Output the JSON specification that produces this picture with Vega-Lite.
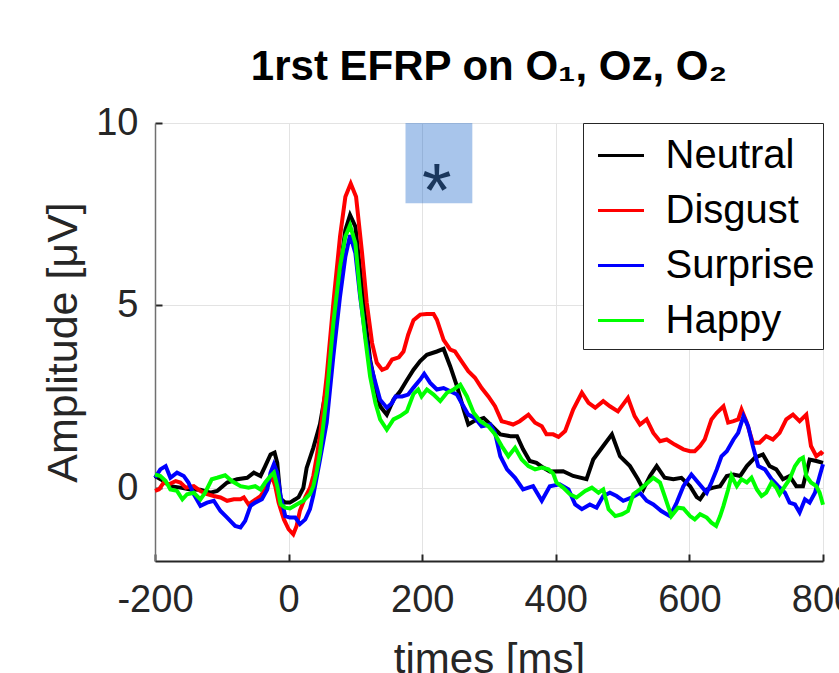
{
"$schema":"https://vega.github.io/schema/vega-lite/v6.json",
"width":668,"height":438,"autosize":"none",
"padding":{"left":155,"top":123,"right":16,"bottom":112},
"background":"white",
"config":{"view":{"stroke":null},"font":"Liberation Sans"},
"title":{"text":"1rst EFRP on O₁, Oᴢ, O₂","fontSize":42,"fontWeight":"bold","font":"Liberation Sans","color":"black","anchor":"middle","frame":"group","offset":15},
"datasets":{
"curves":[
{"c":"Neutral","t":-200,"v":0.33},{"c":"Neutral","t":-187,"v":0.19},{"c":"Neutral","t":-177,"v":0.05},{"c":"Neutral","t":-162,"v":0.01},{"c":"Neutral","t":-147,"v":-0.04},{"c":"Neutral","t":-132,"v":-0.05},{"c":"Neutral","t":-117,"v":-0.13},{"c":"Neutral","t":-107,"v":-0.08},{"c":"Neutral","t":-92,"v":0.15},{"c":"Neutral","t":-77,"v":0.24},{"c":"Neutral","t":-62,"v":0.28},{"c":"Neutral","t":-52,"v":0.42},{"c":"Neutral","t":-42,"v":0.33},{"c":"Neutral","t":-35,"v":0.6},{"c":"Neutral","t":-27,"v":0.92},{"c":"Neutral","t":-21,"v":0.97},{"c":"Neutral","t":-17,"v":0.69},{"c":"Neutral","t":-12,"v":-0.3},{"c":"Neutral","t":-5,"v":-0.4},{"c":"Neutral","t":2,"v":-0.4},{"c":"Neutral","t":10,"v":-0.31},{"c":"Neutral","t":15,"v":-0.25},{"c":"Neutral","t":22,"v":0.0},{"c":"Neutral","t":27,"v":0.55},{"c":"Neutral","t":37,"v":1.1},{"c":"Neutral","t":47,"v":1.75},{"c":"Neutral","t":57,"v":2.79},{"c":"Neutral","t":67,"v":4.34},{"c":"Neutral","t":77,"v":5.98},{"c":"Neutral","t":85,"v":7.07},{"c":"Neutral","t":92,"v":7.48},{"c":"Neutral","t":100,"v":7.16},{"c":"Neutral","t":107,"v":5.98},{"c":"Neutral","t":115,"v":4.61},{"c":"Neutral","t":122,"v":3.52},{"c":"Neutral","t":130,"v":2.79},{"c":"Neutral","t":137,"v":2.24},{"c":"Neutral","t":147,"v":2.01},{"c":"Neutral","t":157,"v":2.42},{"c":"Neutral","t":167,"v":2.65},{"c":"Neutral","t":177,"v":2.95},{"c":"Neutral","t":187,"v":3.24},{"c":"Neutral","t":197,"v":3.48},{"c":"Neutral","t":207,"v":3.65},{"c":"Neutral","t":222,"v":3.74},{"c":"Neutral","t":232,"v":3.81},{"c":"Neutral","t":242,"v":3.33},{"c":"Neutral","t":252,"v":2.79},{"c":"Neutral","t":262,"v":2.15},{"c":"Neutral","t":269,"v":1.74},{"c":"Neutral","t":277,"v":1.83},{"c":"Neutral","t":292,"v":1.92},{"c":"Neutral","t":302,"v":1.74},{"c":"Neutral","t":317,"v":1.47},{"c":"Neutral","t":332,"v":1.42},{"c":"Neutral","t":342,"v":1.42},{"c":"Neutral","t":351,"v":1.06},{"c":"Neutral","t":361,"v":0.74},{"c":"Neutral","t":371,"v":0.69},{"c":"Neutral","t":381,"v":0.56},{"c":"Neutral","t":391,"v":0.45},{"c":"Neutral","t":411,"v":0.46},{"c":"Neutral","t":426,"v":0.33},{"c":"Neutral","t":446,"v":0.24},{"c":"Neutral","t":456,"v":0.78},{"c":"Neutral","t":471,"v":1.15},{"c":"Neutral","t":484,"v":1.47},{"c":"Neutral","t":496,"v":0.87},{"c":"Neutral","t":511,"v":0.6},{"c":"Neutral","t":523,"v":0.24},{"c":"Neutral","t":531,"v":-0.04},{"c":"Neutral","t":541,"v":0.33},{"c":"Neutral","t":551,"v":0.6},{"c":"Neutral","t":563,"v":0.28},{"c":"Neutral","t":576,"v":0.24},{"c":"Neutral","t":588,"v":0.28},{"c":"Neutral","t":601,"v":0.05},{"c":"Neutral","t":611,"v":-0.25},{"c":"Neutral","t":616,"v":-0.31},{"c":"Neutral","t":626,"v":-0.04},{"c":"Neutral","t":636,"v":0.01},{"c":"Neutral","t":646,"v":0.05},{"c":"Neutral","t":656,"v":0.33},{"c":"Neutral","t":666,"v":0.37},{"c":"Neutral","t":676,"v":0.33},{"c":"Neutral","t":686,"v":0.6},{"c":"Neutral","t":698,"v":0.83},{"c":"Neutral","t":710,"v":0.92},{"c":"Neutral","t":720,"v":0.6},{"c":"Neutral","t":730,"v":0.51},{"c":"Neutral","t":740,"v":0.24},{"c":"Neutral","t":750,"v":0.33},{"c":"Neutral","t":760,"v":0.05},{"c":"Neutral","t":770,"v":0.05},{"c":"Neutral","t":780,"v":0.78},{"c":"Neutral","t":790,"v":0.74},{"c":"Neutral","t":800,"v":0.69},
{"c":"Disgust","t":-200,"v":-0.08},{"c":"Disgust","t":-194,"v":-0.04},{"c":"Disgust","t":-187,"v":0.15},{"c":"Disgust","t":-179,"v":0.1},{"c":"Disgust","t":-169,"v":0.19},{"c":"Disgust","t":-162,"v":0.15},{"c":"Disgust","t":-154,"v":0.01},{"c":"Disgust","t":-142,"v":0.05},{"c":"Disgust","t":-132,"v":-0.08},{"c":"Disgust","t":-122,"v":-0.17},{"c":"Disgust","t":-112,"v":-0.22},{"c":"Disgust","t":-102,"v":-0.26},{"c":"Disgust","t":-92,"v":-0.35},{"c":"Disgust","t":-82,"v":-0.31},{"c":"Disgust","t":-72,"v":-0.31},{"c":"Disgust","t":-67,"v":-0.26},{"c":"Disgust","t":-60,"v":-0.45},{"c":"Disgust","t":-52,"v":-0.35},{"c":"Disgust","t":-42,"v":-0.22},{"c":"Disgust","t":-32,"v":0.05},{"c":"Disgust","t":-25,"v":0.33},{"c":"Disgust","t":-20,"v":0.05},{"c":"Disgust","t":-15,"v":-0.4},{"c":"Disgust","t":-7,"v":-0.86},{"c":"Disgust","t":0,"v":-1.13},{"c":"Disgust","t":7,"v":-1.27},{"c":"Disgust","t":12,"v":-1.04},{"c":"Disgust","t":17,"v":-0.62},{"c":"Disgust","t":25,"v":-0.25},{"c":"Disgust","t":32,"v":0.0},{"c":"Disgust","t":37,"v":0.33},{"c":"Disgust","t":42,"v":0.85},{"c":"Disgust","t":47,"v":1.42},{"c":"Disgust","t":57,"v":3.06},{"c":"Disgust","t":67,"v":5.07},{"c":"Disgust","t":77,"v":6.89},{"c":"Disgust","t":85,"v":7.98},{"c":"Disgust","t":93,"v":8.34},{"c":"Disgust","t":101,"v":7.98},{"c":"Disgust","t":110,"v":6.43},{"c":"Disgust","t":117,"v":5.07},{"c":"Disgust","t":125,"v":3.97},{"c":"Disgust","t":132,"v":3.43},{"c":"Disgust","t":140,"v":3.24},{"c":"Disgust","t":147,"v":3.29},{"c":"Disgust","t":155,"v":3.52},{"c":"Disgust","t":165,"v":3.58},{"c":"Disgust","t":172,"v":3.74},{"c":"Disgust","t":179,"v":4.2},{"c":"Disgust","t":187,"v":4.6},{"c":"Disgust","t":197,"v":4.75},{"c":"Disgust","t":207,"v":4.77},{"c":"Disgust","t":217,"v":4.77},{"c":"Disgust","t":222,"v":4.61},{"c":"Disgust","t":232,"v":4.06},{"c":"Disgust","t":242,"v":3.79},{"c":"Disgust","t":249,"v":3.74},{"c":"Disgust","t":259,"v":3.47},{"c":"Disgust","t":269,"v":3.2},{"c":"Disgust","t":279,"v":3.02},{"c":"Disgust","t":289,"v":2.74},{"c":"Disgust","t":299,"v":2.51},{"c":"Disgust","t":309,"v":2.24},{"c":"Disgust","t":319,"v":1.83},{"c":"Disgust","t":327,"v":1.79},{"c":"Disgust","t":336,"v":1.74},{"c":"Disgust","t":346,"v":1.83},{"c":"Disgust","t":359,"v":2.01},{"c":"Disgust","t":369,"v":1.79},{"c":"Disgust","t":379,"v":1.69},{"c":"Disgust","t":386,"v":1.47},{"c":"Disgust","t":396,"v":1.47},{"c":"Disgust","t":404,"v":1.4},{"c":"Disgust","t":414,"v":1.56},{"c":"Disgust","t":426,"v":2.15},{"c":"Disgust","t":439,"v":2.61},{"c":"Disgust","t":449,"v":2.33},{"c":"Disgust","t":459,"v":2.2},{"c":"Disgust","t":471,"v":2.38},{"c":"Disgust","t":481,"v":2.24},{"c":"Disgust","t":493,"v":2.1},{"c":"Disgust","t":508,"v":2.47},{"c":"Disgust","t":518,"v":1.97},{"c":"Disgust","t":526,"v":1.74},{"c":"Disgust","t":536,"v":1.88},{"c":"Disgust","t":546,"v":1.51},{"c":"Disgust","t":556,"v":1.28},{"c":"Disgust","t":566,"v":1.33},{"c":"Disgust","t":578,"v":1.19},{"c":"Disgust","t":591,"v":1.06},{"c":"Disgust","t":601,"v":1.01},{"c":"Disgust","t":608,"v":1.01},{"c":"Disgust","t":616,"v":1.15},{"c":"Disgust","t":623,"v":1.33},{"c":"Disgust","t":633,"v":1.88},{"c":"Disgust","t":641,"v":2.06},{"c":"Disgust","t":651,"v":2.24},{"c":"Disgust","t":658,"v":1.79},{"c":"Disgust","t":666,"v":1.83},{"c":"Disgust","t":673,"v":1.88},{"c":"Disgust","t":678,"v":2.15},{"c":"Disgust","t":686,"v":1.79},{"c":"Disgust","t":695,"v":1.24},{"c":"Disgust","t":705,"v":1.24},{"c":"Disgust","t":715,"v":1.42},{"c":"Disgust","t":725,"v":1.33},{"c":"Disgust","t":735,"v":1.51},{"c":"Disgust","t":745,"v":1.88},{"c":"Disgust","t":755,"v":2.01},{"c":"Disgust","t":765,"v":1.83},{"c":"Disgust","t":775,"v":2.01},{"c":"Disgust","t":782,"v":1.15},{"c":"Disgust","t":790,"v":0.87},{"c":"Disgust","t":797,"v":0.97},{"c":"Disgust","t":800,"v":0.92},
{"c":"Surprise","t":-200,"v":0.28},{"c":"Surprise","t":-192,"v":0.51},{"c":"Surprise","t":-184,"v":0.6},{"c":"Surprise","t":-177,"v":0.28},{"c":"Surprise","t":-167,"v":0.42},{"c":"Surprise","t":-157,"v":0.33},{"c":"Surprise","t":-150,"v":0.15},{"c":"Surprise","t":-142,"v":-0.17},{"c":"Surprise","t":-132,"v":-0.49},{"c":"Surprise","t":-122,"v":-0.4},{"c":"Surprise","t":-112,"v":-0.35},{"c":"Surprise","t":-102,"v":-0.63},{"c":"Surprise","t":-92,"v":-0.81},{"c":"Surprise","t":-80,"v":-1.04},{"c":"Surprise","t":-72,"v":-1.08},{"c":"Surprise","t":-65,"v":-0.9},{"c":"Surprise","t":-57,"v":-0.49},{"c":"Surprise","t":-50,"v":-0.4},{"c":"Surprise","t":-40,"v":-0.31},{"c":"Surprise","t":-32,"v":-0.04},{"c":"Surprise","t":-27,"v":0.42},{"c":"Surprise","t":-22,"v":0.65},{"c":"Surprise","t":-17,"v":0.42},{"c":"Surprise","t":-12,"v":-0.22},{"c":"Surprise","t":-5,"v":-0.77},{"c":"Surprise","t":2,"v":-0.81},{"c":"Surprise","t":10,"v":-0.81},{"c":"Surprise","t":17,"v":-0.99},{"c":"Surprise","t":25,"v":-0.86},{"c":"Surprise","t":32,"v":-0.58},{"c":"Surprise","t":37,"v":-0.2},{"c":"Surprise","t":47,"v":0.78},{"c":"Surprise","t":57,"v":1.79},{"c":"Surprise","t":67,"v":3.61},{"c":"Surprise","t":77,"v":5.25},{"c":"Surprise","t":85,"v":6.34},{"c":"Surprise","t":92,"v":6.93},{"c":"Surprise","t":100,"v":6.43},{"c":"Surprise","t":107,"v":5.25},{"c":"Surprise","t":115,"v":4.15},{"c":"Surprise","t":122,"v":3.43},{"c":"Surprise","t":130,"v":2.88},{"c":"Surprise","t":137,"v":2.42},{"c":"Surprise","t":147,"v":2.2},{"c":"Surprise","t":155,"v":2.33},{"c":"Surprise","t":160,"v":2.51},{"c":"Surprise","t":170,"v":2.51},{"c":"Surprise","t":179,"v":2.56},{"c":"Surprise","t":187,"v":2.75},{"c":"Surprise","t":197,"v":2.97},{"c":"Surprise","t":203,"v":3.13},{"c":"Surprise","t":212,"v":2.88},{"c":"Surprise","t":222,"v":2.7},{"c":"Surprise","t":232,"v":2.74},{"c":"Surprise","t":242,"v":2.65},{"c":"Surprise","t":252,"v":2.56},{"c":"Surprise","t":259,"v":2.33},{"c":"Surprise","t":269,"v":2.01},{"c":"Surprise","t":279,"v":1.92},{"c":"Surprise","t":289,"v":1.69},{"c":"Surprise","t":302,"v":1.74},{"c":"Surprise","t":309,"v":1.51},{"c":"Surprise","t":317,"v":0.87},{"c":"Surprise","t":327,"v":0.51},{"c":"Surprise","t":339,"v":0.28},{"c":"Surprise","t":351,"v":-0.04},{"c":"Surprise","t":366,"v":0.05},{"c":"Surprise","t":379,"v":-0.35},{"c":"Surprise","t":391,"v":0.05},{"c":"Surprise","t":406,"v":0.1},{"c":"Surprise","t":419,"v":-0.04},{"c":"Surprise","t":429,"v":-0.45},{"c":"Surprise","t":439,"v":-0.58},{"c":"Surprise","t":451,"v":-0.45},{"c":"Surprise","t":461,"v":-0.54},{"c":"Surprise","t":471,"v":-0.22},{"c":"Surprise","t":481,"v":-0.13},{"c":"Surprise","t":491,"v":-0.22},{"c":"Surprise","t":501,"v":-0.35},{"c":"Surprise","t":514,"v":-0.26},{"c":"Surprise","t":526,"v":-0.13},{"c":"Surprise","t":536,"v":-0.35},{"c":"Surprise","t":546,"v":-0.45},{"c":"Surprise","t":558,"v":-0.63},{"c":"Surprise","t":571,"v":-0.77},{"c":"Surprise","t":581,"v":-0.4},{"c":"Surprise","t":591,"v":0.05},{"c":"Surprise","t":603,"v":0.37},{"c":"Surprise","t":613,"v":0.15},{"c":"Surprise","t":626,"v":-0.13},{"c":"Surprise","t":633,"v":0.15},{"c":"Surprise","t":641,"v":0.51},{"c":"Surprise","t":648,"v":0.87},{"c":"Surprise","t":656,"v":1.01},{"c":"Surprise","t":666,"v":1.33},{"c":"Surprise","t":673,"v":1.51},{"c":"Surprise","t":681,"v":1.97},{"c":"Surprise","t":688,"v":1.69},{"c":"Surprise","t":695,"v":1.15},{"c":"Surprise","t":703,"v":0.6},{"c":"Surprise","t":713,"v":0.51},{"c":"Surprise","t":723,"v":0.24},{"c":"Surprise","t":733,"v":0.05},{"c":"Surprise","t":743,"v":-0.13},{"c":"Surprise","t":750,"v":-0.4},{"c":"Surprise","t":758,"v":-0.45},{"c":"Surprise","t":765,"v":-0.67},{"c":"Surprise","t":773,"v":-0.31},{"c":"Surprise","t":780,"v":-0.4},{"c":"Surprise","t":788,"v":-0.13},{"c":"Surprise","t":795,"v":0.33},{"c":"Surprise","t":800,"v":0.65},
{"c":"Happy","t":-200,"v":0.37},{"c":"Happy","t":-192,"v":0.33},{"c":"Happy","t":-184,"v":0.19},{"c":"Happy","t":-177,"v":-0.04},{"c":"Happy","t":-167,"v":-0.08},{"c":"Happy","t":-159,"v":-0.31},{"c":"Happy","t":-152,"v":-0.17},{"c":"Happy","t":-142,"v":-0.13},{"c":"Happy","t":-132,"v":-0.31},{"c":"Happy","t":-125,"v":-0.13},{"c":"Happy","t":-115,"v":0.24},{"c":"Happy","t":-107,"v":0.28},{"c":"Happy","t":-95,"v":0.35},{"c":"Happy","t":-85,"v":0.19},{"c":"Happy","t":-72,"v":0.05},{"c":"Happy","t":-60,"v":0.01},{"c":"Happy","t":-50,"v":0.05},{"c":"Happy","t":-42,"v":-0.04},{"c":"Happy","t":-35,"v":0.15},{"c":"Happy","t":-27,"v":0.33},{"c":"Happy","t":-22,"v":0.42},{"c":"Happy","t":-17,"v":0.05},{"c":"Happy","t":-12,"v":-0.45},{"c":"Happy","t":-5,"v":-0.54},{"c":"Happy","t":2,"v":-0.56},{"c":"Happy","t":12,"v":-0.45},{"c":"Happy","t":22,"v":-0.35},{"c":"Happy","t":32,"v":-0.17},{"c":"Happy","t":37,"v":0.05},{"c":"Happy","t":42,"v":0.45},{"c":"Happy","t":47,"v":0.97},{"c":"Happy","t":57,"v":2.51},{"c":"Happy","t":67,"v":4.52},{"c":"Happy","t":77,"v":6.07},{"c":"Happy","t":85,"v":6.89},{"c":"Happy","t":92,"v":7.2},{"c":"Happy","t":100,"v":6.7},{"c":"Happy","t":107,"v":5.34},{"c":"Happy","t":115,"v":4.06},{"c":"Happy","t":122,"v":3.06},{"c":"Happy","t":130,"v":2.33},{"c":"Happy","t":137,"v":1.88},{"c":"Happy","t":147,"v":1.6},{"c":"Happy","t":157,"v":1.88},{"c":"Happy","t":167,"v":1.97},{"c":"Happy","t":177,"v":2.1},{"c":"Happy","t":187,"v":2.58},{"c":"Happy","t":194,"v":2.7},{"c":"Happy","t":199,"v":2.51},{"c":"Happy","t":207,"v":2.7},{"c":"Happy","t":217,"v":2.56},{"c":"Happy","t":227,"v":2.38},{"c":"Happy","t":237,"v":2.61},{"c":"Happy","t":247,"v":2.7},{"c":"Happy","t":257,"v":2.83},{"c":"Happy","t":267,"v":2.51},{"c":"Happy","t":277,"v":2.06},{"c":"Happy","t":287,"v":1.83},{"c":"Happy","t":299,"v":1.69},{"c":"Happy","t":309,"v":1.47},{"c":"Happy","t":319,"v":1.15},{"c":"Happy","t":329,"v":0.87},{"c":"Happy","t":339,"v":1.1},{"c":"Happy","t":349,"v":0.78},{"c":"Happy","t":359,"v":0.6},{"c":"Happy","t":369,"v":0.51},{"c":"Happy","t":379,"v":0.56},{"c":"Happy","t":389,"v":0.51},{"c":"Happy","t":396,"v":0.4},{"c":"Happy","t":401,"v":0.15},{"c":"Happy","t":411,"v":0.01},{"c":"Happy","t":421,"v":-0.17},{"c":"Happy","t":431,"v":-0.26},{"c":"Happy","t":444,"v":-0.08},{"c":"Happy","t":454,"v":0.01},{"c":"Happy","t":464,"v":-0.13},{"c":"Happy","t":471,"v":-0.04},{"c":"Happy","t":479,"v":-0.58},{"c":"Happy","t":489,"v":-0.77},{"c":"Happy","t":499,"v":-0.72},{"c":"Happy","t":508,"v":-0.63},{"c":"Happy","t":516,"v":-0.17},{"c":"Happy","t":526,"v":-0.04},{"c":"Happy","t":538,"v":0.15},{"c":"Happy","t":546,"v":0.28},{"c":"Happy","t":556,"v":0.15},{"c":"Happy","t":563,"v":-0.22},{"c":"Happy","t":573,"v":-0.77},{"c":"Happy","t":583,"v":-0.54},{"c":"Happy","t":591,"v":-0.56},{"c":"Happy","t":601,"v":-0.77},{"c":"Happy","t":608,"v":-0.86},{"c":"Happy","t":616,"v":-0.72},{"c":"Happy","t":626,"v":-0.81},{"c":"Happy","t":633,"v":-0.95},{"c":"Happy","t":640,"v":-1.04},{"c":"Happy","t":646,"v":-0.77},{"c":"Happy","t":651,"v":-0.49},{"c":"Happy","t":658,"v":-0.04},{"c":"Happy","t":663,"v":0.33},{"c":"Happy","t":671,"v":0.05},{"c":"Happy","t":678,"v":0.24},{"c":"Happy","t":686,"v":0.15},{"c":"Happy","t":693,"v":0.28},{"c":"Happy","t":701,"v":-0.04},{"c":"Happy","t":708,"v":-0.22},{"c":"Happy","t":715,"v":-0.13},{"c":"Happy","t":723,"v":0.15},{"c":"Happy","t":730,"v":0.01},{"c":"Happy","t":735,"v":-0.17},{"c":"Happy","t":743,"v":0.05},{"c":"Happy","t":750,"v":0.24},{"c":"Happy","t":758,"v":0.6},{"c":"Happy","t":765,"v":0.78},{"c":"Happy","t":770,"v":0.83},{"c":"Happy","t":775,"v":0.33},{"c":"Happy","t":782,"v":0.15},{"c":"Happy","t":790,"v":0.05},{"c":"Happy","t":795,"v":-0.13},{"c":"Happy","t":800,"v":-0.46}
],
"sig":[{"t0":175,"t1":275,"v0":7.8,"v1":10,"tm":222,"vm":8.45,"mark":"*"}]
},
"layer":[
{"data":{"name":"sig"},"mark":{"type":"text","fontSize":76,"font":"Liberation Sans","color":"#262626","baseline":"alphabetic","align":"center","dy":36},
 "encoding":{"x":{"field":"tm","type":"quantitative","scale":{"domain":[-200,800]}},"y":{"field":"vm","type":"quantitative","scale":{"domain":[-2,10]}},"text":{"field":"mark"}}},
{"data":{"name":"sig"},"mark":{"type":"rect","color":"#0659c6","opacity":0.35},
 "encoding":{"x":{"field":"t0","type":"quantitative"},"x2":{"field":"t1"},"y":{"field":"v0","type":"quantitative"},"y2":{"field":"v1"}}},
{"data":{"name":"curves"},"mark":{"type":"line","strokeWidth":4},
 "encoding":{
  "x":{"field":"t","type":"quantitative","scale":{"domain":[-200,800],"nice":false,"zero":false},
   "axis":{"values":[-200,0,200,400,600,800],"labelExpr":"toString(datum.value)","labelFlush":false,"labelOverlap":false,"grid":true,"gridColor":"#e3e3e3","gridWidth":1,"domainColor":"#262626","domainWidth":2,"tickColor":"#262626","tickWidth":2,"tickSize":-7,"labelFontSize":38,"labelColor":"#262626","labelPadding":27,"labelFont":"Liberation Sans","title":"times [ms]","titleFontSize":42,"titleFontWeight":"normal","titleColor":"#262626","titleFont":"Liberation Sans","titlePadding":20}},
  "y":{"field":"v","type":"quantitative","scale":{"domain":[-2,10],"nice":false,"zero":false},
   "axis":{"values":[0,5,10],"grid":true,"gridColor":"#e3e3e3","gridWidth":1,"domainColor":"#707070","domainWidth":1.5,"tickColor":"#262626","tickWidth":2,"tickSize":-7,"labelFontSize":38,"labelColor":"#262626","labelPadding":24,"labelFont":"Liberation Sans","title":"Amplitude [μV]","titleFontSize":43,"titleFontWeight":"normal","titleColor":"#262626","titleFont":"Liberation Sans","titlePadding":10}},
  "color":{"field":"c","type":"nominal","scale":{"domain":["Neutral","Disgust","Surprise","Happy"],"range":["#000000","#ff0000","#0000ff","#00ff00"]},
   "legend":{"orient":"top-right","offset":0,"title":null,"symbolType":"stroke","symbolSize":2116,"symbolStrokeWidth":3,"symbolOffset":5.5,"labelOffset":20,"labelFontSize":40,"labelFont":"Liberation Sans","labelColor":"black","strokeColor":"#262626","fillColor":"white","padding":8,"rowPadding":10,"labelLimit":0}}
 }}
]
}
